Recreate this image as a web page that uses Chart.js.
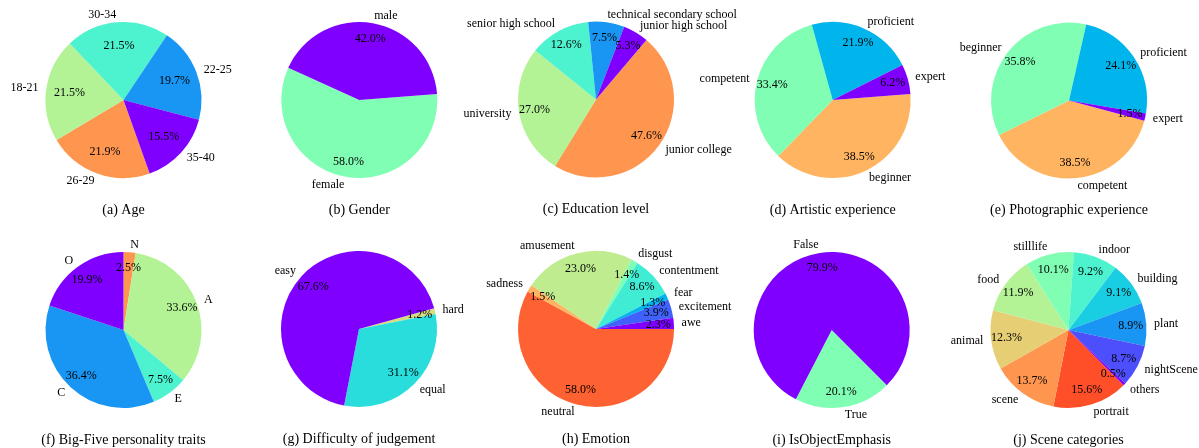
<!DOCTYPE html>
<html>
<head>
<meta charset="utf-8">
<script src="https://cdn.jsdelivr.net/npm/chart.js@4.4.0/dist/chart.umd.min.js"></script>
<style>
  body { margin: 0; background: #fff; }
  #wrap { position: relative; width: 1199px; height: 448px; background: #fff; }
  #wrap canvas { position: absolute; left: 0; top: 0; }
</style>
</head>
<body>
<div id="wrap"></div>
<script>
// data, in the order the slices go round (counter-clockwise)
const ageLabels = ['35-40', '22-25', '30-34', '18-21', '26-29']
const ageValues = [15.5, 19.7, 21.5, 21.5, 21.9]
const genderLabels = ['male', 'female']
const genderValues = [42.0, 58.0]
const eduLabels = ['junior high school', 'technical secondary school', 'senior high school', 'university', 'junior college']
const eduValues = [5.3, 7.5, 12.6, 27.0, 47.6]
const artLabels = ['expert', 'proficient', 'competent', 'beginner']
const artValues = [6.2, 21.9, 33.4, 38.5]
const photoLabels = ['expert', 'proficient', 'beginner', 'competent']
const photoValues = [1.5, 24.1, 35.8, 38.5]
const bigFiveLabels = ['O', 'C', 'E', 'A', 'N']
const bigFiveValues = [19.9, 36.4, 7.5, 33.6, 2.5]
const difficultyLabels = ['easy', 'equal', 'hard']
const difficultyValues = [67.6, 31.1, 1.2]
const emotionLabels = ['awe', 'excitement', 'fear', 'contentment', 'disgust', 'amusement', 'sadness', 'neutral']
const emotionValues = [2.3, 3.9, 1.3, 8.6, 1.4, 23.0, 1.5, 58.0]
const emphasisLabels = ['False', 'True']
const emphasisValues = [79.9, 20.1]
const sceneLabels = ['others', 'nightScene', 'plant', 'building', 'indoor', 'stilllife', 'food', 'animal', 'scene', 'portrait']
const sceneValues = [0.5, 8.7, 8.9, 9.1, 9.2, 10.1, 11.9, 12.3, 13.7, 15.6]

const W = 1199, H = 448, R = 78
const FONT = '"Liberation Serif", "Times New Roman", serif'

// start = angle of first slice edge, degrees counter-clockwise from 3 o'clock
const panels = [
  { labels: ageLabels, values: ageValues, title: '(a) Age', cx: 123.5, cy: 100, start: -70.4, pct: 0.7 },
  { labels: genderLabels, values: genderValues, title: '(b) Gender', cx: 359.3, cy: 100, start: 4.4, pct: 0.8 },
  { labels: eduLabels, values: eduValues, title: '(c) Education level', cx: 596, cy: 99.5, start: 49.7, pct: 0.8 },
  { labels: artLabels, values: artValues, title: '(d) Artistic experience', cx: 832.7, cy: 100, start: 4.4, pct: 0.8 },
  { labels: photoLabels, values: photoValues, title: '(e) Photographic experience', cx: 1069, cy: 100.5, start: -15, pct: 0.8 },
  { labels: bigFiveLabels, values: bigFiveValues, title: '(f) Big-Five personality traits', cx: 123.5, cy: 330, start: 90, pct: 0.8 },
  { labels: difficultyLabels, values: difficultyValues, title: '(g) Difficulty of judgement', cx: 359, cy: 329, start: 15.4, pct: 0.8 },
  { labels: emotionLabels, values: emotionValues, title: '(h) Emotion', cx: 596, cy: 329, start: 0, pct: 0.8 },
  { labels: emphasisLabels, values: emphasisValues, title: '(i) IsObjectEmphasis', cx: 831.7, cy: 330, start: -45, pct: 0.8 },
  { labels: sceneLabels, values: sceneValues, title: '(j) Scene categories', cx: 1068.5, cy: 330, start: -45, pct: 0.8 }
]

// matplotlib "rainbow" colormap
function rainbow(x) {
  let r = Math.min(1, Math.abs(2 * x - 0.5))
  let g = Math.sin(Math.PI * x)
  let b = Math.cos(Math.PI * x / 2)
  return 'rgb(' + Math.round(r * 255) + ',' + Math.round(g * 255) + ',' + Math.round(b * 255) + ')'
}

const pieText = {
  id: 'pieText',
  afterDraw(chart, args, opts) {
    let ctx = chart.ctx
    let meta = chart.getDatasetMeta(0)
    let vals = chart.data.datasets[0].data
    ctx.save()
    ctx.fillStyle = '#000'
    ctx.textBaseline = 'middle'
    ctx.font = '12px ' + FONT
    let cx = 0, cy = 0
    meta.data.forEach((arc, j) => {
      let mid = (arc.startAngle + arc.endAngle) / 2
      let r = arc.outerRadius
      cx = arc.x; cy = arc.y
      // percentage inside
      ctx.textAlign = 'center'
      ctx.fillText(vals[j].toFixed(1) + '%', arc.x + Math.cos(mid) * opts.pct * r, arc.y + Math.sin(mid) * opts.pct * r)
      // label outside
      let lx = arc.x + Math.cos(mid) * 1.1 * r
      let ly = arc.y + Math.sin(mid) * 1.1 * r
      ctx.textAlign = Math.cos(mid) > 0 ? 'left' : 'right'
      ctx.fillText(chart.data.labels[j], lx, ly)
    })
    ctx.font = '14px ' + FONT
    ctx.textAlign = 'center'
    ctx.fillText(opts.title, cx, cy + 110)
    ctx.restore()
  }
}

let wrap = document.getElementById('wrap')
panels.forEach(p => {
  let cv = document.createElement('canvas')
  cv.width = W
  cv.height = H
  cv.style.width = W + 'px'
  cv.style.height = H + 'px'
  wrap.appendChild(cv)
  let n = p.values.length
  let colors = p.values.map((v, i) => rainbow(i / n))
  // chart.js goes clockwise, so feed the slices reversed
  new Chart(cv.getContext('2d'), {
    type: 'pie',
    data: {
      labels: p.labels.slice().reverse(),
      datasets: [{
        data: p.values.slice().reverse(),
        backgroundColor: colors.slice().reverse(),
        borderWidth: 0
      }]
    },
    options: {
      responsive: false,
      animation: false,
      rotation: 90 - p.start,
      layout: {
        padding: { left: p.cx - R, right: W - p.cx - R, top: p.cy - R, bottom: H - p.cy - R }
      },
      plugins: {
        legend: { display: false },
        tooltip: { enabled: false },
        pieText: { pct: p.pct, title: p.title }
      }
    },
    plugins: [pieText]
  })
})
</script>
</body>
</html>
